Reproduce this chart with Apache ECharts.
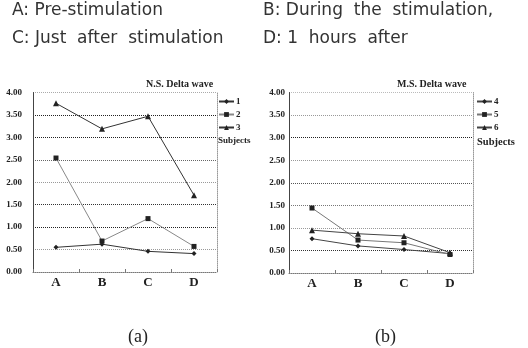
<!DOCTYPE html>
<html><head><meta charset="utf-8">
<script src="https://cdn.jsdelivr.net/npm/echarts@6/dist/echarts.min.js"></script>
<style>html,body{margin:0;padding:0;background:#fff}#c{width:528px;height:348px}</style>
</head><body><div id="c"></div>
<script>
const categories = ['A', 'B', 'C', 'D'];
const yTicks = [0, 0.5, 1, 1.5, 2, 2.5, 3, 3.5, 4];
const nsNames = ['1', '2', '3'];
const ns1 = [0.55, 0.62, 0.46, 0.41];
const ns2 = [2.54, 0.69, 1.19, 0.57];
const ns3 = [3.76, 3.19, 3.47, 1.71];
const msNames = ['4', '5', '6'];
const ms4 = [0.76, 0.60, 0.52, 0.43];
const ms5 = [1.44, 0.73, 0.67, 0.41];
const ms6 = [0.95, 0.87, 0.82, 0.45];
const notes = ['A: Pre-stimulation', 'B: During  the  stimulation,', 'C: Just  after  stimulation', 'D: 1  hours  after'];
const captions = ['(a)', '(b)'];
const chartTitles = ['N.S. Delta wave', 'M.S. Delta wave'];

const chart = echarts.init(document.getElementById('c'), null, {renderer: 'canvas'});
const serif = '"Liberation Serif","DejaVu Serif",serif';
const splitColorsA = ['#888', '#999', '#222', '#333', '#999', '#666', '#222', '#222', '#aaa'];
const splitColorsB = ['#888', '#333', '#999', '#777', '#555', '#999', '#222', '#999', '#bbb'];

function yAx(gi, margin, colors) {
  return {
    type: 'value', gridIndex: gi, min: yTicks[0], max: yTicks[yTicks.length - 1], interval: yTicks[1] - yTicks[0],
    axisLine: {show: true, lineStyle: {color: '#444', width: 1}},
    axisTick: {show: false},
    axisLabel: {margin: margin, formatter: v => v.toFixed(2), fontFamily: serif, fontWeight: 'bold', fontSize: 9, color: '#222'},
    splitLine: {show: true, lineStyle: {color: colors, width: 1, type: [1, 1]}}
  };
}
function yRight(gi) {
  return {
    type: 'value', gridIndex: gi, position: 'right', min: 0, max: 4, interval: 0.5,
    axisLine: {show: true, lineStyle: {color: '#999', width: 1, type: [1, 1]}},
    axisTick: {show: false}, axisLabel: {show: false}, splitLine: {show: false}
  };
}
function xAx(gi) {
  return {
    type: 'category', gridIndex: gi, data: categories, boundaryGap: true,
    axisLine: {show: true, lineStyle: {color: '#777', width: 1, type: [1, 1]}},
    axisTick: {show: true, inside: true, length: 3, lineStyle: {color: '#777'}},
    axisLabel: {margin: 4, fontFamily: serif, fontWeight: 'bold', fontSize: 13, color: '#222'}
  };
}
function ser(name, data, gi, symbol, color, size) {
  return {
    name: name, type: 'line', xAxisIndex: gi, yAxisIndex: gi * 2, data: data,
    symbol: symbol, symbolSize: size, showSymbol: true,
    lineStyle: {color: color, width: 1}, itemStyle: {color: '#222'},
    animation: false
  };
}
const legendCommon = {
  orient: 'vertical', itemWidth: 15, itemHeight: 6, itemGap: 4,
  textStyle: {fontFamily: serif, fontWeight: 'bold', fontSize: 9, color: '#222', padding: [0, 0, 0, -3]},
  padding: 0, selectedMode: false
};

chart.setOption({
  animation: false,
  title: [
    {text: chartTitles[0], left: 146, top: 79, padding: 0, textStyle: {fontFamily: serif, fontWeight: 'bold', fontSize: 10, color: '#222'}},
    {text: chartTitles[1], left: 397, top: 79, padding: 0, textStyle: {fontFamily: serif, fontWeight: 'bold', fontSize: 10, color: '#222'}}
  ],
  grid: [
    {left: 33, top: 92.5, width: 184, height: 179.5},
    {left: 289, top: 92.5, width: 184, height: 180.5}
  ],
  xAxis: [xAx(0), xAx(1)],
  yAxis: [yAx(0, 11, splitColorsA), yRight(0), yAx(1, 4, splitColorsB), yRight(1)],
  legend: [
    Object.assign({}, legendCommon, {left: 218, top: 97, data: nsNames}),
    Object.assign({}, legendCommon, {left: 476, top: 97, data: msNames})
  ],
  series: [
    ser(nsNames[0], ns1, 0, 'diamond', '#333', 5),
    ser(nsNames[1], ns2, 0, 'rect', '#888', 5),
    ser(nsNames[2], ns3, 0, 'triangle', '#333', 6),
    Object.assign(ser(msNames[0], ms4, 1, 'diamond', '#444', 5), {yAxisIndex: 2}),
    Object.assign(ser(msNames[1], ms5, 1, 'rect', '#777', 5), {yAxisIndex: 2}),
    Object.assign(ser(msNames[2], ms6, 1, 'triangle', '#444', 6), {yAxisIndex: 2})
  ],
  graphic: [
    {type: 'text', left: 12, top: 2, style: {text: notes[0], font: '17px "DejaVu Sans"', fill: '#333'}},
    {type: 'text', left: 263, top: 2, style: {text: notes[1], font: '17px "DejaVu Sans"', fill: '#333'}},
    {type: 'text', left: 12, top: 30, style: {text: notes[2], font: '17px "DejaVu Sans"', fill: '#333'}},
    {type: 'text', left: 263, top: 30, style: {text: notes[3], font: '17px "DejaVu Sans"', fill: '#333'}},
    {type: 'text', left: 218, top: 136, style: {text: 'Subjects', font: 'bold 9px ' + serif, fill: '#222'}},
    {type: 'text', left: 477, top: 137, style: {text: 'Subjects', font: 'bold 10.5px ' + serif, fill: '#222'}},
    {type: 'text', left: 128, top: 328, style: {text: captions[0], font: '18px ' + serif, fill: '#222'}},
    {type: 'text', left: 375, top: 328, style: {text: captions[1], font: '18px ' + serif, fill: '#222'}}
  ]
});
</script></body></html>
